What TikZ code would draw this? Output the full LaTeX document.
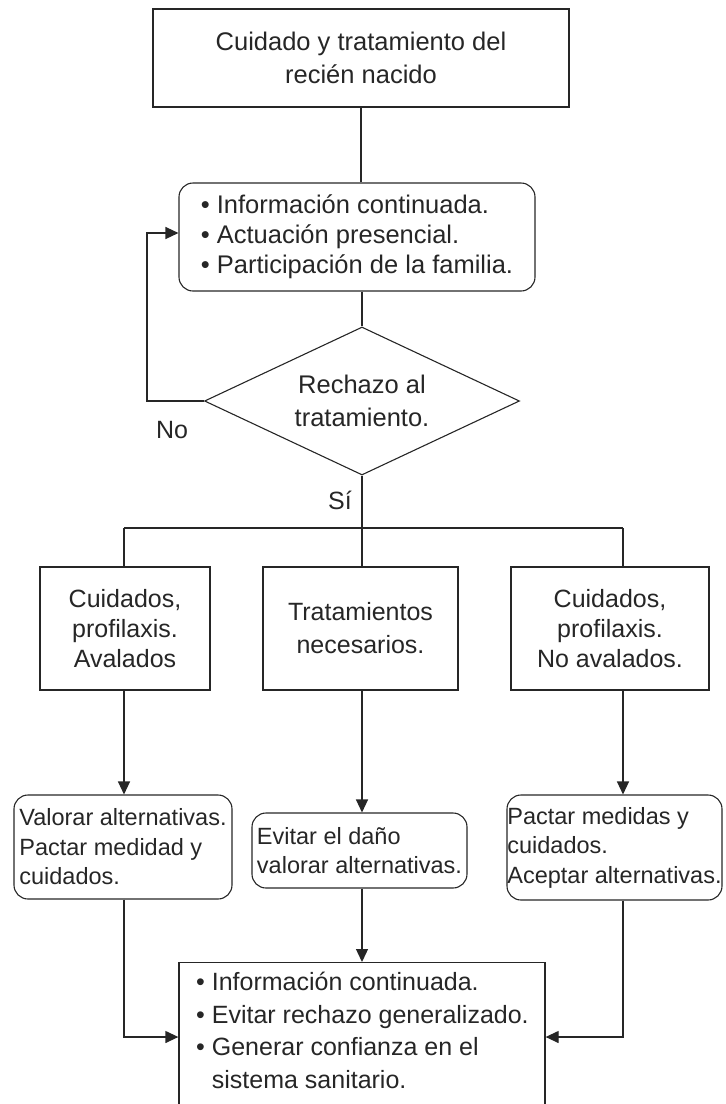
\documentclass[tikz,border=0pt]{standalone}
\usepackage{fontspec}
\setmainfont{Liberation Sans}
\usetikzlibrary{shapes.geometric,arrows.meta}
\definecolor{ink}{HTML}{262626}
\begin{document}
\begin{tikzpicture}[x=1pt,y=-1pt,
  line/.style={draw=ink, line width=1.3pt},
  arr/.style={line, -{Triangle[length=13pt,width=12pt]}},
  sqbox/.style={draw=ink, line width=1.3pt, inner sep=0pt, text=ink, align=center},
  rbox/.style={draw=ink, line width=1.1pt, rounded corners=14pt, inner sep=0pt, text=ink, align=left},
  big/.style={font=\fontsize{25.5}{33}\selectfont},
  small/.style={font=\fontsize{23.5}{29.5}\selectfont},
  lbl/.style={text=ink, inner sep=0pt, font=\fontsize{25}{30}\selectfont},
]
\useasboundingbox (0,0) rectangle (726,1104);
\clip (0,0) rectangle (726,1104);

\node[sqbox, big, minimum width=416pt, minimum height=98pt] (top) at (361,58)
  {Cuidado y tratamiento del\\recién nacido};
\node[rbox, font=\fontsize{25.5}{30}\selectfont, minimum width=356pt, minimum height=108pt] (info) at (357,237)
  {• Información continuada.\\• Actuación presencial.\\• Participación de la familia.};
\node[draw=ink, line width=1.1pt, diamond, shape aspect=2.13, inner sep=0pt,
      minimum width=315pt, minimum height=148pt, text=ink, align=center, big] (dia) at (362,401)
  {Rechazo al\\tratamiento.};

\node[sqbox, small, font=\fontsize{25}{30}\selectfont, minimum width=170pt, minimum height=123pt] (b1) at (125,628.5)
  {Cuidados,\\profilaxis.\\Avalados};
\node[sqbox, font=\fontsize{25}{33}\selectfont, minimum width=195pt, minimum height=123pt] (b2) at (360.5,628.5)
  {Tratamientos\\necesarios.};
\node[sqbox, font=\fontsize{25}{30}\selectfont, minimum width=198pt, minimum height=123pt] (b3) at (610,628.5)
  {Cuidados,\\profilaxis.\\No avalados.};

\node[rbox, small, minimum width=218pt, minimum height=104pt] (c1) at (123,847)
  {Valorar alternativas.\\Pactar medidad y\\cuidados.};
\node[rbox, small, minimum width=215pt, minimum height=75pt] (c2) at (359.5,850.5)
  {Evitar el daño\\valorar alternativas.};
\node[rbox, small, minimum width=215pt, minimum height=105pt] (c3) at (614.5,847.5)
  {Pactar medidas y\\cuidados.\\Aceptar alternativas.};

\node[draw=ink, line width=1.3pt, minimum width=366pt, minimum height=170pt, inner sep=0pt, anchor=north] (bot) at (362,962) {};
\node[text=ink, inner sep=0pt, anchor=north west, align=left, font=\fontsize{25}{32.5}\selectfont] (bottxt) at (196,972)
  {• Información continuada.\\• Evitar rechazo generalizado.\\• Generar confianza en el\\\phantom{• }sistema sanitario.};

\node[lbl] (no) at (172,430) {No};
\node[lbl] (si) at (340,500) {Sí};

\coordinate (lp) at (147,233);
\coordinate (br) at (362,528);
\coordinate (brl) at (124,528);
\coordinate (brr) at (623,528);
\coordinate (jl) at (124,1037);
\coordinate (jr) at (623,1037);

\draw[line] (top.south) -- (top.south |- info.north);
\draw[line] (dia.north |- info.south) -- (dia.north);
\draw[arr] (dia.west) -| (lp) -- (lp -| info.west);
\draw[line] (dia.south) -- (br);
\draw[line] (brl) -- (brr);
\draw[line] (brl) -- (brl |- b1.north);
\draw[line] (br) -- (br |- b2.north);
\draw[line] (brr) -- (brr |- b3.north);
\draw[arr] (brl |- b1.south) -- (brl |- c1.north);
\draw[arr] (br |- b2.south) -- (br |- c2.north);
\draw[arr] (brr |- b3.south) -- (brr |- c3.north);
\draw[arr] (brl |- c1.south) -- (jl) -- (jl -| bot.west);
\draw[arr] (br |- c2.south) -- (br |- bot.north);
\draw[arr] (brr |- c3.south) -- (jr) -- (jr -| bot.east);
\end{tikzpicture}
\end{document}
